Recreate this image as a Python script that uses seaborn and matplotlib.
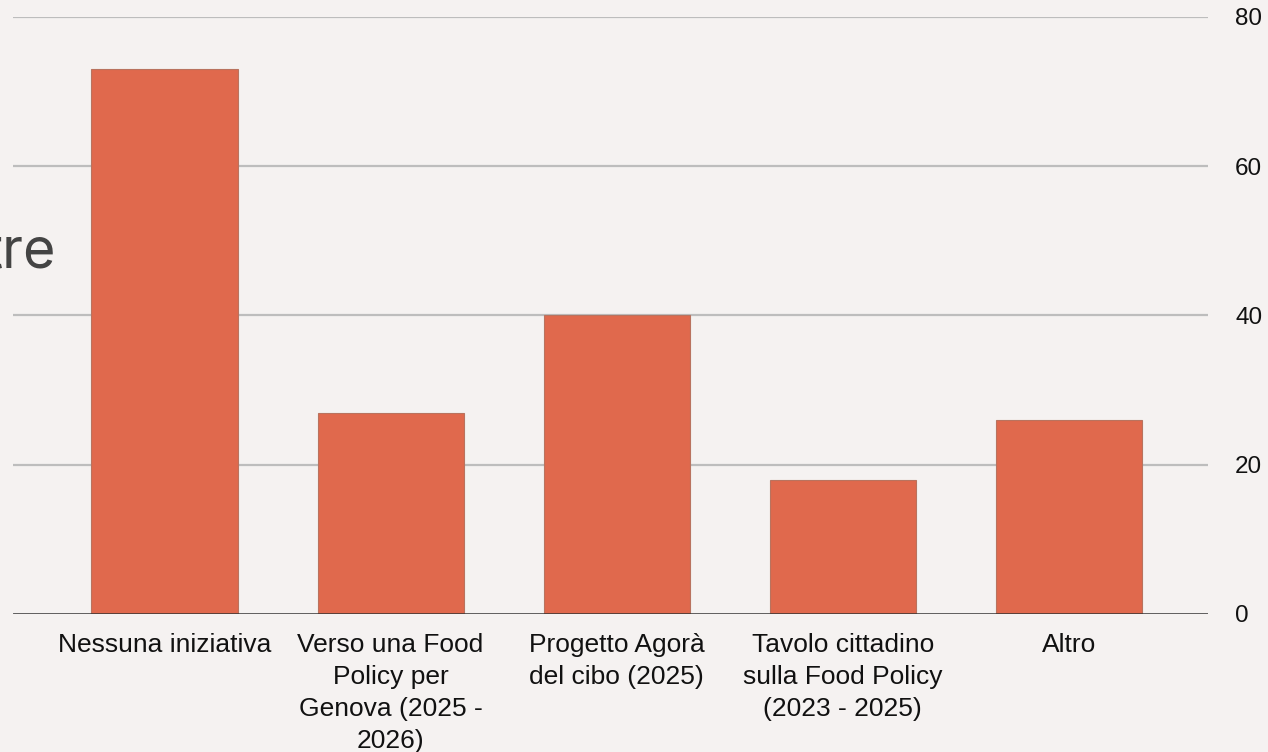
import matplotlib
matplotlib.use("Agg")
import matplotlib.pyplot as plt
import seaborn as sns
import pandas as pd

# data
categories = [
    "Nessuna iniziativa",
    "Verso una Food\nPolicy per\nGenova (2025 -\n2026)",
    "Progetto Agorà\ndel cibo (2025)",
    "Tavolo cittadino\nsulla Food Policy\n(2023 - 2025)",
    "Altro",
]
values = [73, 27, 40, 18, 26]
y_ticks = [0, 20, 40, 60, 80]

bg = "#f5f2f1"
bar_color = "#e0694d"

sns.set_theme(style="white")
plt.rcParams["font.family"] = ["Liberation Sans", "DejaVu Sans"]

fig = plt.figure(figsize=(12.68, 7.52), dpi=100, facecolor=bg)
ax = fig.add_axes([13 / 1268, 138 / 752, 1195 / 1268, 597 / 752])
ax.set_facecolor(bg)

df = pd.DataFrame({"cat": categories, "val": values})
sns.barplot(data=df, x="cat", y="val", color=bar_color, width=0.646,
            saturation=1, edgecolor="#b9735f", linewidth=0.8, ax=ax, zorder=3)

ax.set_xlim(-0.67, 4.615)
ax.set_ylim(0, 80)
ax.set_yticks(y_ticks)
ax.yaxis.tick_right()
ax.tick_params(axis="y", length=0, pad=19.5, labelsize=17.5, labelcolor="#111111")
ax.tick_params(axis="x", length=0, pad=13.5, labelsize=19, labelcolor="#111111")
for lbl in ax.get_xticklabels():
    lbl.set_linespacing(1.42)
ax.set_xlabel("")
ax.set_ylabel("")

for t in y_ticks[1:]:
    ax.axhline(t, color="#bdbdbd", lw=1.6, zorder=1)
ax.axhline(0, color="#333333", lw=1.8, zorder=4)

for side in ["top", "right", "left", "bottom"]:
    ax.spines[side].set_visible(False)

# cut-off title fragment on the left
fig.text(56 / 1268, 1 - 253 / 752, "tre", ha="right", va="center",
         fontsize=40, color="#444444", family=["Inter", "DejaVu Sans"])

fig.savefig("out.png", dpi=100, facecolor=bg)
